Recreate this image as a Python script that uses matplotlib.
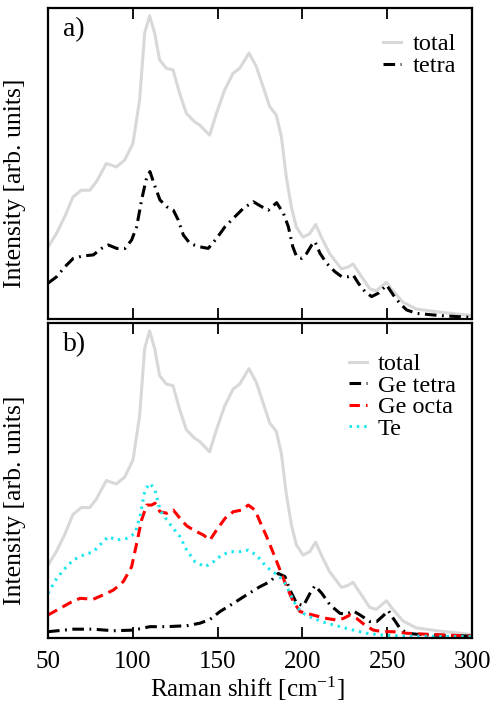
import matplotlib
matplotlib.use("Agg")
import matplotlib.pyplot as plt

plt.rcParams['font.family'] = ['Liberation Serif', 'DejaVu Serif']
plt.rcParams['mathtext.fontset'] = 'custom'
plt.rcParams['mathtext.rm'] = 'Liberation Serif'
plt.rcParams['mathtext.it'] = 'Liberation Serif:italic'

# ---- data (Raman shift in cm^-1, intensity in arb. units) ----
total_x = [50.0, 54.9, 59.8, 64.7, 69.6, 74.6, 78.5, 84.4, 90.3, 95.2, 100.1, 104.0,
           107.0, 109.9, 112.9, 115.8, 119.8, 123.7, 127.6, 131.6, 136.5, 139.4, 145.3,
           149.3, 154.2, 159.1, 163.0, 168.5, 172.8, 176.8, 180.7, 184.6, 187.6, 190.5,
           193.5, 196.4, 200.4, 204.3, 207.8, 211.2, 216.1, 223.0, 226.9, 229.8, 233.8,
           239.7, 243.6, 249.5, 253.4, 259.3, 267.2, 280.9, 300.0]
total_y = [23.1, 27.4, 32.8, 39.2, 41.4, 41.4, 44.1, 50.0, 48.9, 51.1, 56.5, 70.4,
           91.9, 97.5, 91.9, 83.3, 80.6, 80.1, 72.6, 66.1, 63.4, 62.4, 59.1,
           66.1, 73.7, 79.0, 80.6, 85.5, 81.2, 74.7, 68.3, 65.6, 58.6, 45.7,
           36.0, 29.6, 26.3, 27.4, 30.4, 26.3, 21.0, 16.1, 16.7, 17.7, 14.5,
           9.7, 9.1, 11.8, 9.1, 5.4, 3.2, 2.2, 1.1]

tetra_x = [50.0, 55.1, 60.0, 64.9, 70.8, 76.7, 81.6, 85.6, 90.5, 95.4, 99.3, 102.3,
           105.2, 107.8, 110.1, 113.1, 116.0, 120.0, 123.9, 126.8, 129.8, 133.7, 138.6,
           144.5, 149.4, 154.4, 159.3, 165.2, 171.1, 176.0, 179.9, 184.8, 188.8, 191.7,
           194.3, 196.6, 199.6, 202.5, 205.5, 207.4, 210.4, 214.3, 219.2, 223.2, 227.1,
           230.0, 233.0, 236.9, 240.8, 244.8, 249.7, 253.6, 257.5, 261.5, 267.4, 281.1, 300.0]
tetra_y = [11.5, 13.6, 16.8, 19.5, 20.3, 20.6, 22.7, 23.8, 22.7, 22.7, 25.4, 29.7,
           38.3, 44.7, 47.4, 42.6, 38.3, 36.1, 35.0, 31.8, 27.0, 24.3, 23.3,
           22.7, 25.9, 29.7, 32.4, 35.6, 37.7, 36.1, 35.0, 37.4, 34.0, 29.7,
           23.3, 20.0, 19.5, 21.1, 23.8, 24.9, 21.1, 17.9, 15.2, 13.6, 13.6,
           14.1, 11.5, 8.8, 7.2, 8.3, 10.9, 7.7, 5.0, 2.9, 1.8, 1.1, 0.5]

ge_tetra_x = [50.0, 64.9, 76.7, 88.5, 100.3, 110.1, 120.0, 131.8, 139.6, 145.5, 151.4,
              159.3, 167.1, 175.0, 180.9, 185.8, 189.7, 192.7, 196.6, 200.6, 204.5,
              207.4, 211.4, 216.3, 222.2, 226.1, 230.0, 234.0, 239.9, 243.8, 247.7,
              250.7, 253.6, 257.5, 261.5, 271.3, 300.0]
ge_tetra_y = [2.0, 2.8, 2.8, 2.3, 2.5, 3.6, 3.6, 3.9, 4.7, 5.9, 8.4,
              11.0, 13.7, 16.3, 17.9, 20.5, 19.5, 15.2, 11.0, 10.2, 14.2,
              16.6, 14.2, 10.5, 7.8, 7.6, 8.6, 7.3, 5.2, 5.2, 7.1,
              8.7, 6.2, 3.1, 1.5, 1.0, 0.6]

ge_octa_x = [50.0, 57.1, 63.0, 68.9, 76.7, 82.6, 88.5, 94.4, 99.3, 102.3, 105.2, 108.2,
             111.1, 113.1, 116.0, 120.0, 123.9, 127.8, 131.8, 135.7, 141.6, 145.5, 149.4,
             154.4, 159.3, 164.2, 168.1, 172.1, 175.0, 178.9, 182.9, 186.8, 190.7, 194.7,
             198.6, 202.5, 208.4, 214.3, 220.2, 224.1, 228.1, 232.0, 236.9, 241.8, 247.7,
             253.6, 261.5, 281.1, 300.0]
ge_octa_y = [7.3, 9.4, 11.2, 12.6, 12.3, 13.7, 15.2, 17.9, 22.6, 30.1, 37.5, 42.2,
             42.2, 42.8, 40.1, 39.6, 40.6, 38.0, 35.6, 34.3, 32.7, 31.1, 34.3,
             38.0, 40.1, 40.6, 42.2, 40.6, 36.9, 32.2, 26.9, 21.6, 16.3, 11.5,
             8.4, 7.8, 7.0, 6.2, 5.7, 6.2, 7.3, 6.2, 4.1, 2.5, 2.0,
             2.0, 1.5, 1.0, 0.6]

te_x = [50.0, 55.1, 60.0, 64.9, 70.8, 76.7, 81.6, 85.6, 90.5, 96.4, 101.3, 104.2,
        107.2, 110.1, 113.1, 116.0, 120.0, 123.9, 127.8, 131.8, 136.7, 142.6, 147.5,
        152.4, 157.3, 163.2, 168.1, 173.0, 177.0, 181.9, 185.8, 189.7, 192.7, 196.6,
        200.6, 206.4, 214.3, 222.2, 230.0, 237.9, 245.8, 261.5, 300.0]
te_y = [14.2, 18.9, 22.1, 24.8, 26.3, 27.4, 30.1, 32.2, 31.1, 31.6, 33.2, 38.5,
        47.0, 49.1, 47.0, 40.6, 37.5, 34.8, 32.2, 27.9, 24.2, 22.6, 24.2,
        26.3, 27.4, 27.4, 27.9, 26.3, 23.7, 21.1, 20.0, 17.4, 14.2, 9.9,
        7.8, 6.2, 4.7, 3.6, 2.5, 1.5, 1.0, 0.6, 0.4]

x_ticks = [50, 100, 150, 200, 250, 300]
panel_labels = ["a)", "b)"]
legend_a = ["total", "tetra"]
legend_b = ["total", "Ge tetra", "Ge octa", "Te"]

FS = 18
LFS = 17.5
GRAY = "#d8d8d8"
CYAN = "#1ee6ee"

fig = plt.figure(figsize=(4.98, 7.06), dpi=100)
ax1 = fig.add_axes([48/498, 1-319/706, 424/498, 311/706])
ax2 = fig.add_axes([48/498, 1-638/706, 424/498, 315/706])

lw = 2.2
dashdot = (0, (3.8, 1.8, 0.6, 1.8))
dashed = (0, (3.4, 2.0))
dotted = (0, (0.8, 1.6))
kw = dict(solid_joinstyle='round', dash_joinstyle='round')

ax1.plot(total_x, total_y, color=GRAY, lw=lw, label=legend_a[0], **kw)
ax1.plot(tetra_x, tetra_y, color="black", lw=lw, linestyle=dashdot, label=legend_a[1], **kw)

ax2.plot(total_x, total_y, color=GRAY, lw=lw, label=legend_b[0], **kw)
ax2.plot(ge_tetra_x, ge_tetra_y, color="black", lw=lw, linestyle=dashdot, label=legend_b[1], **kw)
ax2.plot(ge_octa_x, ge_octa_y, color="red", lw=lw, linestyle=dashed, label=legend_b[2], **kw)
ax2.plot(te_x, te_y, color=CYAN, lw=lw, linestyle=dotted, label=legend_b[3], **kw)

for ax, lab, ls, anchor in zip((ax1, ax2), panel_labels, (0.0, -0.02), (0.95, 0.935)):
    ax.set_xlim(50, 300)
    ax.set_ylim(0, 100)
    ax.set_xticks(x_ticks)
    ax.set_yticks([])
    ax.tick_params(axis='x', direction='in', top=True, bottom=True,
                   length=8, width=1.3, labelsize=FS, pad=9)
    for sp in ax.spines.values():
        sp.set_linewidth(1.6)
    ax.set_ylabel("Intensity [arb. units]", fontsize=FS + 0.5, labelpad=8)
    ax.yaxis.set_label_coords(-0.052, 0.437)
    ax.text(0.035, 0.97, lab, transform=ax.transAxes, fontsize=FS + 2,
            ha='left', va='top')
    ax.legend(loc='upper right', bbox_to_anchor=(0.985, anchor), frameon=False,
              fontsize=LFS, handlelength=0.75, handletextpad=0.45,
              labelspacing=ls, borderaxespad=0.0)

ax1.tick_params(axis='x', labelbottom=False)
ax2.set_xlabel("Raman shift [cm$^{-1}$]", fontsize=FS, labelpad=1)
ax2.xaxis.set_label_coords(0.469, -0.115)

fig.savefig("out.png", dpi=100)
